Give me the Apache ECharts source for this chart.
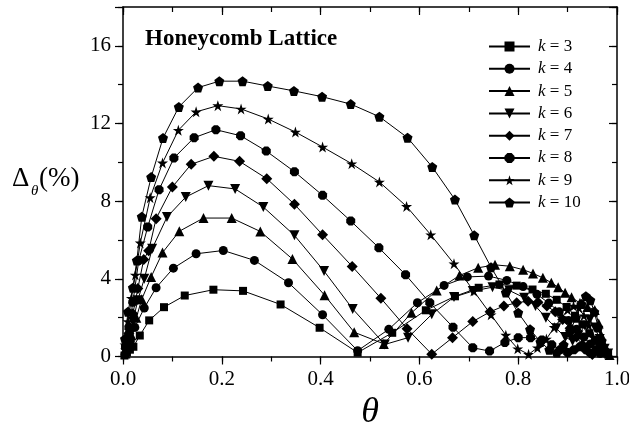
<!DOCTYPE html>
<html>
<head>
<meta charset="utf-8">
<script src="https://cdn.jsdelivr.net/npm/echarts@6/dist/echarts.min.js"></script>
<style>
html,body{margin:0;padding:0;background:#fff;}
#c{width:629px;height:426px;}
</style>
</head>
<body>
<div id="c"></div>
<script>
// ---- data ----
const seriesNames = ['k = 3','k = 4','k = 5','k = 6','k = 7','k = 8','k = 9','k = 10'];
const xTicks = [0, 0.2, 0.4, 0.6, 0.8, 1.0];
const yTicks = [0, 4, 8, 12, 16];

const theta3 = [0.003,0.008,0.014,0.021,0.034,0.053,0.083,0.125,0.183,0.243,0.319,0.398,0.475,0.545,0.613,0.672,0.72,0.762,0.797,0.829,0.856,0.878,0.898,0.915,0.93,0.944,0.956,0.966,0.975,0.982];
const delta3 = [0.05,0.2,0.35,0.5,1.08,1.86,2.54,3.14,3.44,3.38,2.68,1.48,0.2,1.22,2.38,3.1,3.54,3.71,3.65,3.45,3.23,2.92,2.55,2.1,1.65,1.2,0.8,0.5,0.25,0.1];

const theta4 = [0.004,0.009,0.015,0.024,0.043,0.067,0.102,0.148,0.203,0.266,0.335,0.404,0.475,0.538,0.596,0.65,0.697,0.74,0.777,0.81,0.838,0.862,0.883,0.902,0.918,0.933,0.946,0.957,0.966];
const delta4 = [0.1,0.4,0.8,1.5,2.5,3.54,4.55,5.29,5.46,4.95,3.8,2.15,0.3,1.4,2.77,3.66,4.1,4.14,3.92,3.6,3.2,2.75,2.3,1.85,1.4,1.0,0.65,0.35,0.15];

const theta5 = [0.005,0.01,0.017,0.027,0.038,0.057,0.08,0.114,0.163,0.22,0.278,0.343,0.408,0.468,0.528,0.584,0.635,0.681,0.719,0.753,0.783,0.81,0.83,0.85,0.867,0.881,0.895,0.908,0.925,0.94,0.955,0.963,0.968,0.974,0.98,0.985];
const delta5 = [0.15,0.5,1.1,2.0,2.95,4.1,5.35,6.45,7.13,7.13,6.44,5.02,3.16,1.25,0.65,2.25,3.4,4.17,4.57,4.72,4.65,4.47,4.28,4.05,3.8,3.57,3.28,3.05,2.75,2.55,2.4,1.7,1.1,0.6,0.25,0.08];

const theta6 = [0.006,0.012,0.02,0.03,0.043,0.059,0.089,0.127,0.173,0.227,0.284,0.347,0.407,0.465,0.53,0.577,0.625,0.67,0.708,0.748,0.782,0.812,0.835,0.856,0.877,0.895,0.91,0.922,0.935,0.945,0.955,0.965,0.975,0.982];
const delta6 = [0.3,0.9,1.8,2.9,4.0,5.55,7.18,8.21,8.8,8.63,7.7,6.24,4.4,2.45,0.62,0.97,2.17,3.06,3.37,3.57,3.4,3.03,2.6,2.0,1.45,1.0,0.8,1.1,1.6,1.9,1.5,0.9,0.4,0.15];

const theta7 = [0.006,0.012,0.02,0.03,0.042,0.052,0.067,0.1,0.138,0.184,0.236,0.291,0.347,0.404,0.464,0.522,0.575,0.625,0.667,0.708,0.743,0.771,0.797,0.82,0.84,0.858,0.875,0.89,0.905,0.918,0.93,0.94,0.95];
const delta7 = [0.4,1.2,2.2,3.5,5.0,5.45,7.1,8.73,9.9,10.31,10.05,9.16,7.84,6.27,4.64,3.0,1.43,0.12,0.97,1.8,2.3,2.6,2.77,2.85,2.8,2.6,2.3,1.9,1.45,1.0,0.6,0.3,0.1];

const theta8 = [0.005,0.012,0.02,0.032,0.05,0.073,0.103,0.144,0.188,0.238,0.29,0.347,0.404,0.461,0.518,0.572,0.621,0.668,0.708,0.742,0.773,0.8,0.825,0.848,0.868,0.885,0.9,0.913,0.925,0.937,0.948];
const delta8 = [0.5,1.5,2.8,4.95,6.67,8.59,10.22,11.27,11.68,11.37,10.58,9.52,8.3,6.98,5.6,4.21,2.77,1.51,0.45,0.28,0.72,0.97,0.97,0.85,0.6,0.35,0.2,0.35,0.5,0.35,0.15];

const theta9 = [0.004,0.01,0.017,0.025,0.035,0.055,0.08,0.112,0.148,0.192,0.239,0.294,0.349,0.404,0.463,0.519,0.574,0.623,0.67,0.71,0.745,0.775,0.799,0.821,0.839,0.857,0.873,0.888,0.9,0.912,0.923,0.933,0.943,0.952,0.96,0.967];
const delta9 = [0.6,1.8,3.0,4.2,5.85,8.18,9.97,11.65,12.6,12.92,12.75,12.23,11.56,10.79,9.93,8.99,7.73,6.27,4.78,3.37,2.15,1.1,0.4,0.11,0.45,0.9,1.5,2.0,2.4,2.6,2.5,2.1,1.6,1.0,0.5,0.2];

const theta10 = [0.004,0.01,0.02,0.028,0.038,0.057,0.081,0.113,0.152,0.195,0.242,0.293,0.346,0.403,0.461,0.519,0.576,0.626,0.672,0.711,0.745,0.775,0.8,0.824,0.845,0.863,0.878,0.892,0.905,0.917,0.928,0.937,0.946,0.954,0.962,0.969,0.975];
const delta10 = [0.9,2.3,3.54,4.95,7.2,9.24,11.25,12.85,13.85,14.18,14.18,13.93,13.68,13.38,13.0,12.35,11.27,9.76,8.08,6.24,4.6,3.3,2.25,1.4,0.75,0.35,0.2,0.6,1.3,2.0,2.7,3.1,2.9,2.3,1.5,0.8,0.3];

const thetas = [theta3,theta4,theta5,theta6,theta7,theta8,theta9,theta10];
const deltas = [delta3,delta4,delta5,delta6,delta7,delta8,delta9,delta10];

// ---- styling ----
const FONT = 'Liberation Serif';
const PENTAGON = 'path://M50,0 L97.6,34.5 L79.4,90.5 L20.6,90.5 L2.4,34.5 Z';
const STAR = 'path://M50,0 L61.2,34.5 L97.6,34.5 L68.2,55.9 L79.4,90.5 L50,69.1 L20.6,90.5 L31.8,55.9 L2.4,34.5 L38.8,34.5 Z';
const OCTAGON = 'path://M29,0 L71,0 L100,29 L100,71 L71,100 L29,100 L0,71 L0,29 Z';
const DOWNTRI = 'path://M0,0 L100,0 L50,87 Z';
const symbols = ['rect','circle','triangle',DOWNTRI,'diamond',OCTAGON,STAR,PENTAGON];
const sizes = [8,9,10,10,11,9,11,10];

const gridRect = {left:123, top:7, width:494, height:349.5, outerBoundsMode:'none', containLabel:false};

const series = seriesNames.map((name,i)=>({
  name: name,
  type: 'line',
  xAxisIndex: 0, yAxisIndex: 0,
  data: thetas[i].map((t,j)=>[t, deltas[i][j]]),
  symbol: symbols[i],
  symbolSize: sizes[i],
  showAllSymbol: true,
  lineStyle: {color:'#000', width:1},
  itemStyle: {color:'#000'},
  animation: false,
  z: 10 - i
}));

const axisLineStyle = {show:true, onZero:false, lineStyle:{color:'#000', width:1.5}};
const noLine = {show:false, onZero:false};
const tickStyle = {color:'#000', width:1.2};

const option = {
  backgroundColor: '#fff',
  animation: false,
  title: {
    text: 'Honeycomb Lattice',
    left: 145, top: 28, padding: 0,
    textStyle: {fontFamily: FONT, fontWeight: 'bold', fontSize: 23, color: '#000'}
  },
  legend: {
    orient: 'vertical',
    left: 483, top: 33,
    itemWidth: 41, itemHeight: 12.5, itemGap: 5.3,
    data: seriesNames,
    formatter: n => '{sp|}{i|k}' + n.slice(1),
    textStyle: {
      fontFamily: FONT, fontSize: 17, color: '#000', lineHeight: 17,
      rich: {sp:{width:3}, i:{fontStyle:'italic', fontFamily: FONT, fontSize:17}}
    }
  },
  grid: [
    Object.assign({}, gridRect),
    Object.assign({}, gridRect)
  ],
  xAxis: [
    {
      gridIndex:0, type:'value', position:'bottom', min:0, max:1, interval:0.2,
      axisLine: axisLineStyle,
      axisTick: {show:true, inside:false, length:8, lineStyle:tickStyle},
      axisLabel: {fontFamily:FONT, fontSize:21, color:'#000', margin:12,
        formatter: v => (xTicks.some(t=>Math.abs(t-v)<1e-9) ? v.toFixed(1) : '')},
      splitLine: {show:false},
      name: 'θ', nameLocation:'middle', nameGap: 29,
      nameTextStyle: {fontFamily:FONT, fontStyle:'italic', fontSize:36, color:'#000'}
    },
    {
      gridIndex:0, type:'value', position:'top', min:0, max:1, interval:0.2,
      axisLine: axisLineStyle,
      axisTick: {show:true, inside:true, length:8, lineStyle:tickStyle},
      axisLabel: {show:false}, splitLine: {show:false}
    },
    {
      gridIndex:1, type:'value', position:'bottom', min:0, max:1, interval:0.1,
      axisLine: noLine,
      axisTick: {show:true, inside:false, length:5, lineStyle:tickStyle},
      axisLabel: {show:false}, splitLine: {show:false}
    },
    {
      gridIndex:1, type:'value', position:'top', min:0, max:1, interval:0.1,
      axisLine: noLine,
      axisTick: {show:true, inside:true, length:5, lineStyle:tickStyle},
      axisLabel: {show:false}, splitLine: {show:false}
    }
  ],
  yAxis: [
    {
      gridIndex:0, type:'value', position:'left', min:0, max:18, interval:4,
      axisLine: axisLineStyle,
      axisTick: {show:true, inside:false, length:8, lineStyle:tickStyle},
      axisLabel: {fontFamily:FONT, fontSize:21, color:'#000', margin:12,
        formatter: v => (yTicks.indexOf(v) >= 0 ? String(v) : '')},
      splitLine: {show:false}
    },
    {
      gridIndex:0, type:'value', position:'right', min:0, max:18, interval:4,
      axisLine: axisLineStyle,
      axisTick: {show:true, inside:true, length:8, lineStyle:tickStyle},
      axisLabel: {show:false}, splitLine: {show:false}
    },
    {
      gridIndex:1, type:'value', position:'left', min:0, max:18, interval:2,
      axisLine: noLine,
      axisTick: {show:true, inside:false, length:5, lineStyle:tickStyle},
      axisLabel: {show:false}, splitLine: {show:false}
    },
    {
      gridIndex:1, type:'value', position:'right', min:0, max:18, interval:2,
      axisLine: noLine,
      axisTick: {show:true, inside:true, length:5, lineStyle:tickStyle},
      axisLabel: {show:false}, splitLine: {show:false}
    }
  ],
  graphic: [
    {type:'text', left:12, top:165, style:{text:'Δ', fontFamily:FONT, fontSize:27, fill:'#000'}},
    {type:'text', left:31, top:184, style:{text:'θ', fontFamily:FONT, fontStyle:'italic', fontSize:15, fill:'#000'}},
    {type:'text', left:39, top:165, style:{text:'(%)', fontFamily:FONT, fontSize:27, fill:'#000'}}
  ],
  series: series
};

const chart = echarts.init(document.getElementById('c'), null, {renderer:'canvas'});
chart.setOption(option);
</script>
</body>
</html>
